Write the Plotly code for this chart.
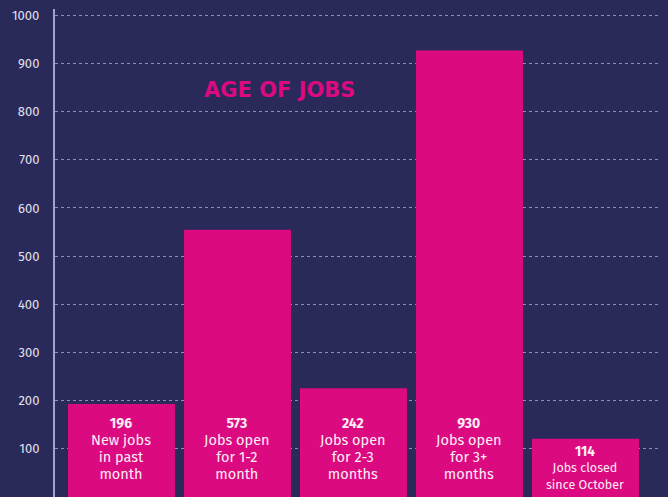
import plotly.graph_objects as go

categories = ["New jobs in past month", "Jobs open for 1-2 month", "Jobs open for 2-3 months",
              "Jobs open for 3+ months", "Jobs closed since October"]
bar_heights = [193, 555, 226, 927, 121]
label_values = ["196", "573", "242", "930", "114"]
label_lines = [["New jobs", "in past", "month"],
               ["Jobs open", "for 1-2", "month"],
               ["Jobs open", "for 2-3", "months"],
               ["Jobs open", "for 3+", "months"],
               ["Jobs closed", "since October"]]
y_ticks = [0, 100, 200, 300, 400, 500, 600, 700, 800, 900, 1000]

BG = "#29295a"
PINK = "#db0a80"
TXT = "#fdeef6"
FONT = "Fira Sans, Lato, Open Sans, sans-serif"

fig = go.Figure()
fig.add_trace(go.Bar(x=list(range(len(categories))), y=bar_heights, width=0.922,
                     marker=dict(color=PINK, line=dict(width=0)),
                     hovertext=categories, hoverinfo="text+y"))

ann = []
for i, (v, lines) in enumerate(zip(label_values, label_lines)):
    if len(lines) == 3:
        base, nsize, lsize, shift = 13, 14, 14.5, 48.5
    else:
        base, nsize, lsize, shift = 12.5, 13.5, 12.5, 29.5
    txt = "<b><span style='font-size:%spx'>%s</span></b>" % (nsize, v)
    for t in lines:
        txt += "<br><span style='font-size:%spx'>%s</span>" % (lsize, t)
    ann.append(dict(x=i, y=0, xref="x", yref="y", text=txt, showarrow=False,
                    yanchor="middle", xanchor="center", yshift=shift, align="center",
                    font=dict(family=FONT, size=base, color=TXT)))

ann.append(dict(x=1.362, y=844, xref="x", yref="y", text="<b>AGE OF JOBS</b>", showarrow=False,
                yanchor="middle", xanchor="center",
                font=dict(family="DejaVu Sans, sans-serif", size=21, color=PINK)))

fig.update_layout(
    width=668, height=497,
    margin=dict(l=55, r=7, t=9, b=0, pad=0),
    paper_bgcolor=BG, plot_bgcolor=BG,
    showlegend=False,
    annotations=ann,
    xaxis=dict(range=[-0.573, 4.651], showticklabels=False, showgrid=False, zeroline=False,
               showline=False, ticks="", fixedrange=True, automargin=False),
    yaxis=dict(range=[0, 1013], tickvals=y_ticks, ticktext=[str(t) for t in y_ticks],
               showgrid=True, gridcolor="#8c8cb4", griddash="dot", gridwidth=1,
               zeroline=False, showline=True, linecolor="#a3a3c8", linewidth=2,
               ticks="", ticklabelstandoff=11, automargin=False,
               tickfont=dict(family=FONT, size=13, color="#e2e2f0")),
)

fig.write_html("out.html", config={"displayModeBar": False},
               post_script="document.body.style.margin='0';document.body.style.background='%s';"
                           "document.documentElement.style.overflow='hidden';" % BG)
